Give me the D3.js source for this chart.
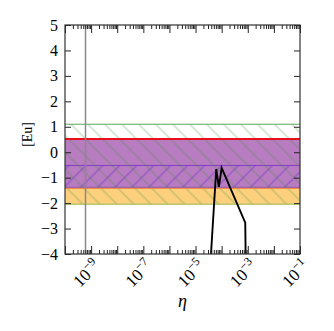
<!DOCTYPE html>
<html>
<head>
<meta charset="utf-8">
<script src="https://cdn.jsdelivr.net/npm/d3@7"></script>
<style>
body { margin: 0; background: #fff; }
</style>
</head>
<body>
<svg id="chart"></svg>
<script>
// bands in [Eu]
var greenBand = [-2.05, 1.1];
var purpleBand = [-1.38, 0.52];
var crossBand = [-1.38, -0.52];
var orangeBand = [-2.05, -1.38];
var redLine = 0.52;
var etaObs = 6.1e-10;

// black curve
var curveEta = [3.0e-5, 3.9e-5, 6.2e-5, 7.8e-5, 1.0e-4, 8.0e-4, 8.3e-4];
var curveEu = [-5, -4, -0.66, -1.36, -0.62, -2.77, -4.2];

var yTicks = [-4, -3, -2, -1, 0, 1, 2, 3, 4, 5];
var xLabelExp = [-9, -7, -5, -3, -1];

var screen = {width: 334, height: 331};
var margins = {left: 65, right: 34, top: 25, bottom: 77};
var width = screen.width - margins.left - margins.right;
var height = screen.height - margins.top - margins.bottom;
var serif = "'Liberation Serif', 'DejaVu Serif', serif";

var svg = d3.select("#chart")
    .attr("width", screen.width)
    .attr("height", screen.height)
    .attr("font-family", serif);

var xScale = d3.scaleLog().domain([1e-10, 1e-1]).range([0, width]);
var yScale = d3.scaleLinear().domain([-4, 5]).range([height, 0]);

var defs = svg.append("defs");
defs.append("clipPath").attr("id", "clip")
    .append("rect").attr("width", width).attr("height", height);

var hatch = function(id, color, angle, sw) {
    var p = defs.append("pattern")
        .attr("id", id)
        .attr("patternUnits", "userSpaceOnUse")
        .attr("width", 12).attr("height", 12)
        .attr("patternTransform", "rotate(" + angle + ")");
    p.append("line")
        .attr("x1", 6).attr("y1", 0).attr("x2", 6).attr("y2", 12)
        .attr("stroke", color).attr("stroke-width", sw);
};
hatch("greenHatch", "rgba(60,140,60,0.45)", -45, 0.9);
hatch("purpleHatch", "rgba(110,50,200,0.75)", 45, 0.9);

var g = svg.append("g")
    .attr("transform", "translate(" + margins.left + "," + margins.top + ")");

var plot = g.append("g").attr("clip-path", "url(#clip)");

var band = function(b, fill, stroke) {
    plot.append("rect")
        .attr("x", 0).attr("width", width)
        .attr("y", yScale(b[1]))
        .attr("height", yScale(b[0]) - yScale(b[1]))
        .attr("fill", fill)
        .attr("stroke", "none");
    if (stroke) {
        b.forEach(function(v) {
            plot.append("line")
                .attr("x1", 0).attr("x2", width)
                .attr("y1", yScale(v)).attr("y2", yScale(v))
                .attr("stroke", stroke).attr("stroke-width", 1);
        });
    }
};

band(orangeBand, "#fdd07e", null);
band(purpleBand, "#b87cc0", null);
band(crossBand, "url(#purpleHatch)", "#8040c8");
band(greenBand, "url(#greenHatch)", "#5aa85a");
// orange edges
plot.append("line")
    .attr("x1", 0).attr("x2", width)
    .attr("y1", yScale(orangeBand[1]) + 1).attr("y2", yScale(orangeBand[1]) + 1)
    .attr("stroke", "#e8904a").attr("stroke-width", 1.2);
plot.append("line")
    .attr("x1", 0).attr("x2", width)
    .attr("y1", yScale(orangeBand[0])).attr("y2", yScale(orangeBand[0]))
    .attr("stroke", "#b8c870").attr("stroke-width", 1.2);
plot.append("line")
    .attr("x1", 0).attr("x2", width)
    .attr("y1", yScale(redLine)).attr("y2", yScale(redLine))
    .attr("stroke", "#e8101a").attr("stroke-width", 1.8);

plot.append("line")
    .attr("x1", xScale(etaObs)).attr("x2", xScale(etaObs))
    .attr("y1", 0).attr("y2", height)
    .attr("stroke", "#8a8a8a").attr("stroke-width", 1.5);

var line = d3.line()
    .x(function(d, i) { return xScale(curveEta[i]); })
    .y(function(d) { return yScale(d); });
plot.append("path")
    .datum(curveEu)
    .attr("d", line)
    .attr("fill", "none")
    .attr("stroke", "#000")
    .attr("stroke-width", 1.9)
    .attr("stroke-linejoin", "miter");

// axes
var xMajor = d3.range(-10, 0).map(function(e) { return Math.pow(10, e); });
var xMinor = [];
d3.range(-10, -1).forEach(function(e) {
    d3.range(2, 10).forEach(function(m) { xMinor.push(m * Math.pow(10, e)); });
});

var addAxis = function(axis, transform) {
    var a = g.append("g").attr("transform", transform).call(axis);
    a.select(".domain").remove();
    a.selectAll("line").attr("stroke", "#222");
    return a;
};

addAxis(d3.axisBottom(xScale).tickValues(xMajor).tickSize(-8).tickFormat(""), "translate(0," + height + ")");
addAxis(d3.axisBottom(xScale).tickValues(xMinor).tickSize(-4).tickFormat(""), "translate(0," + height + ")");
addAxis(d3.axisTop(xScale).tickValues(xMajor).tickSize(-8).tickFormat(""), "translate(0,0)");
addAxis(d3.axisTop(xScale).tickValues(xMinor).tickSize(-4).tickFormat(""), "translate(0,0)");
addAxis(d3.axisLeft(yScale).tickValues(yTicks).tickSize(-6).tickFormat(""), "translate(0,0)");
addAxis(d3.axisRight(yScale).tickValues(yTicks).tickSize(-6).tickFormat(""), "translate(" + width + ",0)");

g.append("rect")
    .attr("width", width).attr("height", height)
    .attr("fill", "none").attr("stroke", "#333").attr("stroke-width", 1.2);

// y tick labels
g.selectAll(".ylab")
    .data(yTicks)
    .enter()
    .append("text")
    .attr("class", "ylab")
    .attr("x", -7)
    .attr("y", function(d) { return yScale(d); })
    .attr("dy", "0.35em")
    .attr("text-anchor", "end")
    .attr("font-size", 16)
    .attr("font-family", serif)
    .text(function(d) { return d < 0 ? "\u2212" + (-d) : d; });

// x tick labels rotated
var xl = g.selectAll(".xlab")
    .data(xLabelExp)
    .enter()
    .append("text")
    .attr("class", "xlab")
    .attr("font-size", 17)
    .attr("font-family", serif)
    .attr("text-anchor", "end")
    .attr("transform", function(d) {
        return "translate(" + (xScale(Math.pow(10, d)) + 10) + "," + (height + 13) + ") rotate(-45)";
    });
xl.append("tspan").text("10");
xl.append("tspan").attr("dy", -7).attr("font-size", 12).text(function(d) { return "\u2212" + (-d); });

g.append("text")
    .attr("x", width / 2)
    .attr("y", height + 53)
    .attr("text-anchor", "middle")
    .attr("font-size", 18)
    .attr("font-style", "italic")
    .attr("font-family", serif)
    .text("\u03b7");

g.append("text")
    .attr("transform", "translate(-33," + yScale(0.7) + ") rotate(-90)")
    .attr("text-anchor", "middle")
    .attr("font-size", 14)
    .attr("font-family", serif)
    .text("[Eu]");
</script>
</body>
</html>
